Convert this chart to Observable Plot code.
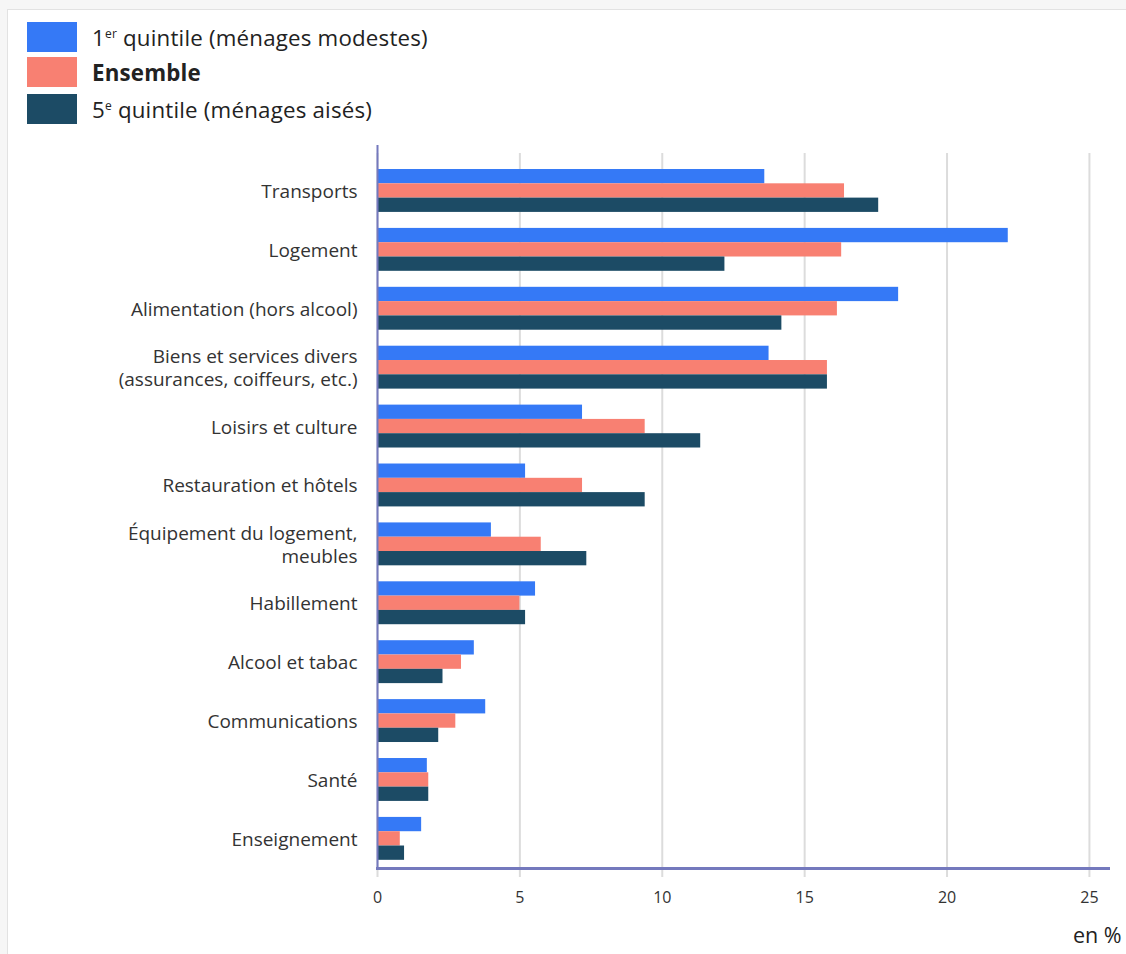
<!DOCTYPE html>
<html>
<head>
<meta charset="utf-8">
<script src="https://cdn.jsdelivr.net/npm/d3@7"></script>
<script src="https://cdn.jsdelivr.net/npm/@observablehq/plot@0.6"></script>
<style>
  html, body { margin: 0; padding: 0; background: #f6f6f6; width: 1126px; height: 954px; overflow: hidden; font-family: "Open Sans", sans-serif; }
  #panel { position: absolute; left: 7px; top: 9px; right: 0; bottom: 0; background: #fff; border-left: 1px solid #e2e2e2; border-top: 1px solid #e2e2e2; }
  .leg { position: absolute; left: 27px; height: 30px; display: flex; align-items: center; }
  .sw { width: 50px; height: 30px; margin-right: 15px; flex: none; }
  .lt { font-size: 22.3px; letter-spacing: 0.2px; color: #222; white-space: nowrap; }
  .lt sup { font-size: 12px; vertical-align: 8px; }
  #chart { position: absolute; left: 0; top: 140px; }
  #unit { position: absolute; left: 1073px; top: 920px; font-size: 21.5px; color: #222; white-space: nowrap; }
</style>
</head>
<body>
<div id="panel"></div>
<div id="legend"></div>
<div id="chart"></div>
<div id="unit">en %</div>
<script>
const categories = [
  "Transports",
  "Logement",
  "Alimentation (hors alcool)",
  "Biens et services divers\n(assurances, coiffeurs, etc.)",
  "Loisirs et culture",
  "Restauration et hôtels",
  "Équipement du logement,\nmeubles",
  "Habillement",
  "Alcool et tabac",
  "Communications",
  "Santé",
  "Enseignement"
];
const quintile1 = [13.6, 22.15, 18.3, 13.75, 7.2, 5.2, 4.0, 5.55, 3.4, 3.8, 1.75, 1.55];
const ensemble  = [16.4, 16.3, 16.15, 15.8, 9.4, 7.2, 5.75, 5.0, 2.95, 2.75, 1.8, 0.8];
const quintile5 = [17.6, 12.2, 14.2, 15.8, 11.35, 9.4, 7.35, 5.2, 2.3, 2.15, 1.8, 0.95];
const xTicks = [0, 5, 10, 15, 20, 25];
const seriesNames = ["1<sup>er</sup> quintile (ménages modestes)", "<b>Ensemble</b>", "5<sup>e</sup> quintile (ménages aisés)"];
const colors = ["#3579f6", "#f88072", "#1c4b65"];
const axisColor = "#7479bd";

// legend
const legend = document.getElementById("legend");
const legTops = [22, 57, 94];
seriesNames.forEach((n, i) => {
  const d = document.createElement("div");
  d.className = "leg";
  d.style.top = legTops[i] + "px";
  d.innerHTML = `<div class="sw" style="background:${colors[i]}"></div><div class="lt">${n}</div>`;
  legend.appendChild(d);
});

const rows = categories.map((c, i) => ({cat: c, q1: quintile1[i], ens: ensemble[i], q5: quintile5[i]}));

// band geometry (pixels) for the three bars inside each category band
const frameH = 723;
const step = frameH / (categories.length + 2 * 0.1375);
const barH = 14.3;
const off = 8.3;
const inset = k => ({insetTop: off + k * barH, insetBottom: step - off - (k + 1) * barH});

const chart = Plot.plot({
  width: 1126,
  height: 814,
  marginLeft: 377,
  marginRight: 18,
  marginTop: 5,
  marginBottom: 86,
  style: {fontFamily: "Open Sans", color: "#333", background: "transparent", overflow: "visible"},
  x: {domain: [0, 25.67], axis: null},
  y: {domain: categories, paddingInner: 0, paddingOuter: 0.1375, align: 0.97, round: false, axis: null},
  marks: [
    Plot.ruleX(xTicks, {stroke: "#dcdcdc", strokeWidth: 2, insetTop: 8, insetBottom: -9}),
    Plot.barX(rows, {y: "cat", x: "q1", fill: colors[0], ...inset(0)}),
    Plot.barX(rows, {y: "cat", x: "ens", fill: colors[1], ...inset(1)}),
    Plot.barX(rows, {y: "cat", x: "q5", fill: colors[2], ...inset(2)}),
    Plot.ruleX([0], {stroke: axisColor, strokeWidth: 2}),
    Plot.frame({anchor: "bottom", stroke: axisColor, strokeWidth: 3}),
    Plot.axisY({tickSize: 0, tickPadding: 20, fontSize: 19, lineHeight: 1.2, label: null, fill: "#333"}),
    Plot.axisX({ticks: xTicks, tickSize: 0, tickPadding: 23, fontSize: 16, label: null, fill: "#333"})
  ]
});
document.getElementById("chart").appendChild(chart);
</script>
</body>
</html>
